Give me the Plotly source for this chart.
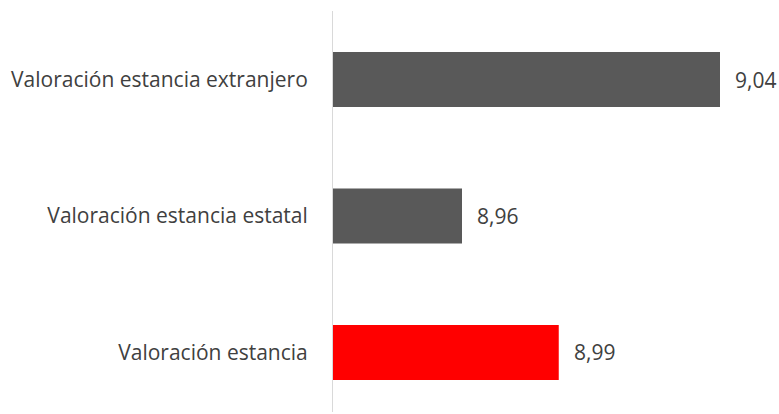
import plotly.graph_objects as go

categories = ["Valoración estancia", "Valoración estancia estatal", "Valoración estancia extranjero"]
values = [8.99, 8.96, 9.04]
colors = ["#ff0000", "#595959", "#595959"]

font_family = "'Open Sans', sans-serif"
font_size = 21
text_color = "#404040"

fig = go.Figure(
    go.Bar(
        x=values,
        y=categories,
        orientation="h",
        marker=dict(color=colors, line=dict(width=0)),
        width=0.403,
        hoverinfo="skip",
    )
)

# value labels to the right of each bar
for cat, val in zip(categories, values):
    fig.add_annotation(
        x=val, y=cat, text=f"{val:.2f}".replace(".", ","),
        xanchor="left", yanchor="middle", xshift=13, showarrow=False,
        font=dict(family=font_family, size=font_size, color=text_color),
    )

fig.update_layout(
    width=779, height=414,
    margin=dict(l=333, r=0, t=11, b=2),
    paper_bgcolor="white", plot_bgcolor="white",
    showlegend=False,
    font=dict(family=font_family, size=font_size, color=text_color),
    xaxis=dict(range=[8.92, 8.92 + 446 / 3225], visible=False, showgrid=False, zeroline=False),
    yaxis=dict(
        range=[-0.436, 2.502],
        showline=True, linecolor="#d9d9d9", linewidth=1,
        showgrid=False, zeroline=False, ticks="",
        ticklabelstandoff=20,
        tickfont=dict(family=font_family, size=font_size, color=text_color),
    ),
)

fig.write_html("out.html")
